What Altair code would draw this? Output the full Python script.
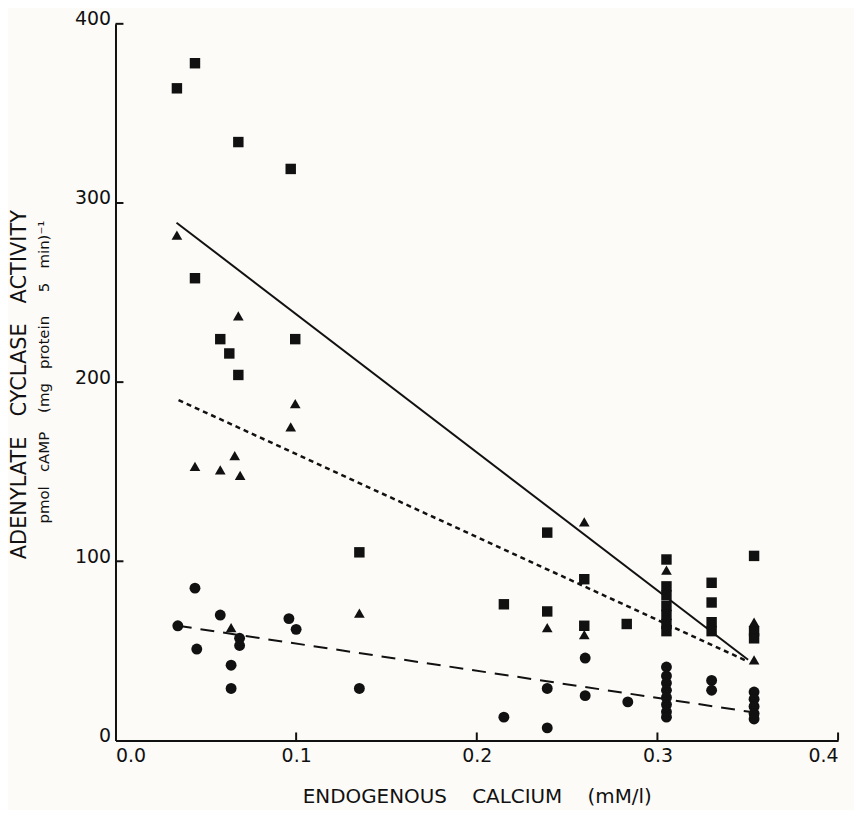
import altair as alt
import pandas as pd

# ---- data ----
sq_x = [0.034, 0.044, 0.068, 0.097, 0.044, 0.058, 0.063, 0.068, 0.0995, 0.135,
        0.239, 0.2595, 0.215, 0.239, 0.2595, 0.283,
        0.305, 0.305, 0.305, 0.305, 0.305, 0.305, 0.305,
        0.330, 0.330, 0.330, 0.330,
        0.3535, 0.3535, 0.3535]
sq_y = [364, 378, 334, 319, 258, 224, 216, 204, 224, 105,
        116, 90, 76, 72, 64, 65,
        101, 86, 81, 75, 70, 65, 61,
        88, 77, 66, 61,
        103, 61, 57]

tri_x = [0.034, 0.068, 0.0995, 0.097, 0.044, 0.058, 0.066, 0.069, 0.064, 0.135,
         0.2595, 0.239, 0.2595, 0.305, 0.3535, 0.3535]
tri_y = [282, 237, 188, 175, 153, 151, 159, 148, 63, 71,
         122, 63, 59, 95, 66, 45]

cir_x = [0.0345, 0.044, 0.058, 0.045, 0.064, 0.064, 0.0687, 0.0687, 0.096, 0.100, 0.135,
         0.260, 0.239, 0.260, 0.2836, 0.215, 0.239,
         0.305, 0.305, 0.305, 0.305, 0.305, 0.305, 0.305, 0.305,
         0.330, 0.330,
         0.3535, 0.3535, 0.3535, 0.3535, 0.3535]
cir_y = [64, 85, 70, 51, 42, 29, 57, 53, 68, 62, 29,
         46, 29, 25, 21.5, 13, 7,
         41, 36, 32, 28, 24, 20, 16, 13,
         33.5, 28,
         27, 23, 19, 15, 12]

# regression lines (end points)
solid_x = [0.0338, 0.3502]
solid_y = [289, 45]
short_x = [0.0349, 0.3502]
short_y = [190, 44]
long_x = [0.0345, 0.3510]
long_y = [64, 16]

x_ticks = [0.1, 0.2, 0.3, 0.4]
y_ticks = [100, 200, 300, 400]
x_labels = [0.0, 0.1, 0.2, 0.3, 0.4]
y_labels = [0, 100, 200, 300, 400]

NB = "\u00a0"
x_title = f"ENDOGENOUS{NB*4}CALCIUM{NB*4}(mM/l)"
y_title = f"ADENYLATE{NB*3}CYCLASE{NB*3}ACTIVITY"
y_subtitle = f"pmol{NB*3}cAMP{NB*4}(mg{NB*3}protein{NB*5}5{NB*3}min)\u207b\u00b9"

# ---- build tables ----
pts = pd.DataFrame({
    "x": sq_x + tri_x + cir_x,
    "y": sq_y + tri_y + cir_y,
    "kind": ["square"] * len(sq_x) + ["triangle"] * len(tri_x) + ["circle"] * len(cir_x),
})

W, H = 726, 720
FONT = "DejaVu Sans"
INK = "#111111"

xscale = alt.Scale(domain=[0, 0.4], nice=False, zero=False)
yscale = alt.Scale(domain=[0, 400], nice=False, zero=False)

xaxis = alt.Axis(values=x_labels, format=".1f", tickSize=0, labelPadding=6,
                 labelFontSize=19, labelFont=FONT, labelColor=INK,
                 domainColor=INK, domainWidth=2, grid=False,
                 title=x_title, titleFont=FONT, titleFontSize=20,
                 titleFontWeight="normal", titleColor=INK,
                 titleY=62, titleBaseline="alphabetic")
yaxis = alt.Axis(values=y_labels, format="d", tickSize=0, labelPadding=5,
                 labelFontSize=19, labelFont=FONT, labelColor=INK,
                 labelBaseline="alphabetic", labelOffset=1,
                 domainColor=INK, domainWidth=2, grid=False,
                 title=y_title, titleFont=FONT, titleFontSize=21,
                 titleFontWeight="normal", titleColor=INK,
                 titleX=-96, titleY=H / 2 + 2, titleAngle=270,
                 titleAlign="center", titleBaseline="middle")

points = alt.Chart(pts).mark_point(filled=True, opacity=1, color=INK).encode(
    x=alt.X("x:Q", scale=xscale, axis=xaxis),
    y=alt.Y("y:Q", scale=yscale, axis=yaxis),
    shape=alt.Shape("kind:N", legend=None,
                    scale=alt.Scale(domain=["square", "triangle", "circle"],
                                    range=["square", "triangle-up", "circle"])),
    size=alt.Size("kind:N", legend=None,
                  scale=alt.Scale(domain=["square", "triangle", "circle"],
                                  range=[110, 120, 115])),
)

def fit_line(xs, ys, dash, width):
    df = pd.DataFrame({"x": xs, "y": ys})
    mk = alt.Chart(df).mark_line(color=INK, strokeWidth=width,
                                 **({"strokeDash": dash} if dash else {}))
    return mk.encode(x=alt.X("x:Q", scale=xscale), y=alt.Y("y:Q", scale=yscale))

solid = fit_line(solid_x, solid_y, None, 2)
short = fit_line(short_x, short_y, [5, 4], 2.5)
longd = fit_line(long_x, long_y, [14, 9], 2)

xt = alt.Chart(pd.DataFrame({"x": x_ticks})).mark_rule(color=INK, strokeWidth=2).encode(
    x=alt.X("x:Q", scale=xscale), y=alt.value(H), y2=alt.value(H - 8))
yt = alt.Chart(pd.DataFrame({"y": y_ticks})).mark_rule(color=INK, strokeWidth=2).encode(
    y=alt.Y("y:Q", scale=yscale), x=alt.value(0), x2=alt.value(8))

sub = alt.Chart(pd.DataFrame({"t": [y_subtitle]})).mark_text(
    angle=270, font=FONT, fontSize=15, color=INK, align="center", baseline="middle"
).encode(text="t:N", x=alt.value(-72), y=alt.value(H / 2 - 10))

chart = alt.layer(longd, short, solid, points, xt, yt, sub).properties(
    width=W, height=H,
    autosize=alt.AutoSizeParams(type="none"),
    padding={"left": 108, "top": 14, "right": 16, "bottom": 68},
    background="#fcfbf8",
).configure_view(stroke=None)

chart.save("out.html", embed_options={"renderer": "svg", "actions": False})
